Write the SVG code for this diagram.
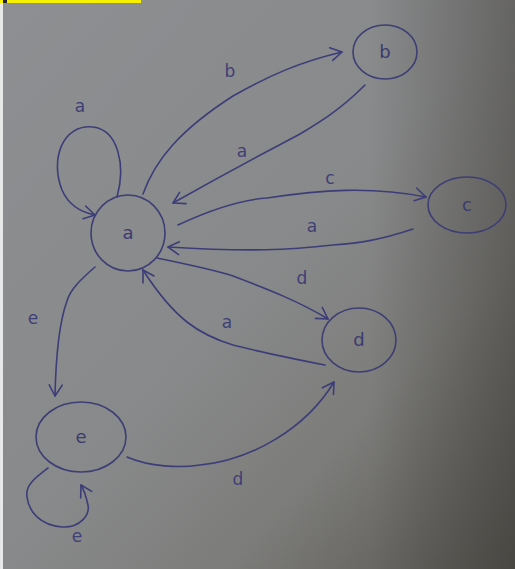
<svg xmlns="http://www.w3.org/2000/svg" width="515" height="569" viewBox="0 0 515 569">
<defs>
<linearGradient id="bg" x1="0" y1="0" x2="1" y2="1">
<stop offset="0" stop-color="#8d8f92"/>
<stop offset="0.5" stop-color="#88898a"/>
<stop offset="0.72" stop-color="#7c7c7a"/>
<stop offset="1" stop-color="#55534e"/>
</linearGradient>
<linearGradient id="side" x1="0" y1="0" x2="1" y2="0">
<stop offset="0.72" stop-color="#3a3834" stop-opacity="0"/>
<stop offset="1" stop-color="#3a3834" stop-opacity="0.45"/>
</linearGradient>
<marker id="ah" viewBox="-12 -8 14 16" refX="0" refY="0" markerWidth="14" markerHeight="16" markerUnits="userSpaceOnUse" orient="auto">
<path d="M-11,-7 L0,0 L-11,6" fill="none" stroke="#3c3d78" stroke-width="1.6" stroke-linecap="round" stroke-linejoin="round"/>
</marker>
<style>
.n{fill:none;stroke:#3d3e74;stroke-width:1.6}
.e{fill:none;stroke:#3c3d78;stroke-width:1.6;stroke-linecap:round;marker-end:url(#ah)}
.t{font-family:"DejaVu Sans",sans-serif;font-size:18px;fill:#3a3b70;text-anchor:middle}
.l{font-family:"DejaVu Sans",sans-serif;font-size:17px;fill:#3f4076;text-anchor:middle}
</style>
</defs>
<rect width="515" height="569" fill="url(#bg)"/>
<rect width="515" height="569" fill="url(#side)"/>
<rect x="0" y="0" width="3" height="569" fill="#e8e8e8"/>
<rect x="0" y="0" width="141" height="3" fill="#f7f000"/>
<rect x="3" y="0" width="4" height="3" fill="#222"/>
<g id="connectors">
<path class="e" d="M117,197 C126,165 118,130 93,127 C62,124 50,160 62,190 C68,204 80,212 95,215"/>
<path class="e" d="M143,194 C155,160 180,130 233,96 C270,75 300,62 342,52"/>
<path class="e" d="M365,85 C340,110 320,122 300,134 C270,150 240,165 173,203"/>
<path class="e" d="M178,225 C210,210 240,200 267,198 C320,190 370,186 426,197"/>
<path class="e" d="M413,229 C380,240 360,243 333,245 C290,250 250,252 168,247"/>
<path class="e" d="M157,258 C190,265 215,270 233,276 C270,290 300,302 328,319"/>
<path class="e" d="M325,365 C290,358 260,352 233,345 C200,335 175,320 143,270"/>
<path class="e" d="M95,267 C80,280 70,290 67,301 C60,320 56,350 55,396"/>
<path class="e" d="M127,457 C150,467 180,468 200,465 C250,460 305,430 334,382"/>
<path class="e" d="M48,468 C35,478 25,485 27,497 C29,512 40,525 62,527 C80,528 90,515 88,505 C86,496 84,490 81,485"/>
<text class="l" x="80" y="112">a</text>
<text class="l" x="230" y="77">b</text>
<text class="l" x="242" y="157">a</text>
<text class="l" x="330" y="184">c</text>
<text class="l" x="312" y="232">a</text>
<text class="l" x="302" y="284">d</text>
<text class="l" x="227" y="328">a</text>
<text class="l" x="33" y="324">e</text>
<text class="l" x="238" y="485">d</text>
<text class="l" x="77" y="542">e</text>
</g>
<g id="node-a"><ellipse class="n" cx="128" cy="233" rx="37" ry="38"/><text class="t" x="128" y="239">a</text></g>
<g id="node-b"><ellipse class="n" cx="385" cy="52" rx="32" ry="27"/><text class="t" x="385" y="58">b</text></g>
<g id="node-c"><ellipse class="n" cx="467" cy="205" rx="39" ry="28"/><text class="t" x="467" y="211">c</text></g>
<g id="node-d"><ellipse class="n" cx="359" cy="340" rx="37" ry="32"/><text class="t" x="359" y="346">d</text></g>
<g id="node-e"><ellipse class="n" cx="81" cy="437" rx="45" ry="35"/><text class="t" x="81" y="443">e</text></g>
</svg>
